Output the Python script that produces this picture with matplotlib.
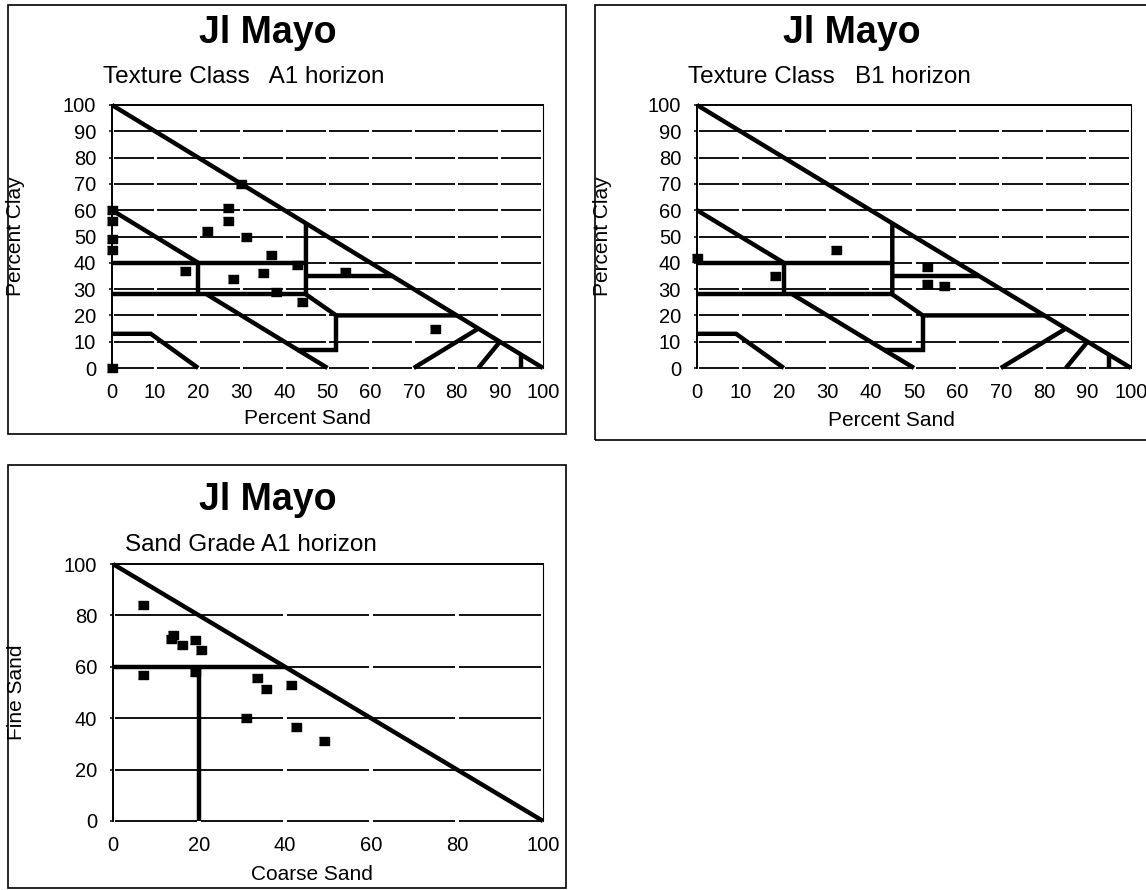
import numpy as np
import matplotlib
matplotlib.use("Agg")
import matplotlib.pyplot as plt
from matplotlib.patches import Rectangle

plt.rcParams['font.family'] = ['Liberation Sans', 'DejaVu Sans']

# ---------------- data ----------------
site_title = "Jl Mayo"
texture_ticks = np.arange(0, 101, 10)
grade_ticks = np.arange(0, 101, 20)

# A1 horizon texture: percent sand / percent clay
a1_sand = [0, 0, 0, 0, 0, 17, 22, 27, 27, 30, 28, 31, 35, 37, 43, 44, 38, 54, 75]
a1_clay = [60, 56, 49, 45, 0, 37, 52, 61, 56, 70, 34, 50, 36, 43, 39, 25, 29, 36.5, 15]

# B1 horizon texture
b1_sand = [0, 18, 32, 53, 53, 57]
b1_clay = [42, 35, 45, 38.5, 32, 31]

# A1 horizon sand grade: coarse sand / fine sand
a1_coarse = [7, 7, 13.5, 14, 16, 19, 20.5, 19, 31, 33.5, 35.5, 41.5, 42.5, 49]
a1_fine = [84, 57, 71, 72.5, 68.5, 70.5, 66.5, 58, 40, 55.5, 51.5, 53, 36.5, 31]

# texture class boundaries, (sand, clay) polylines
texture_bounds = [
    ([0, 100], [100, 0]),
    ([0, 20], [60, 40]),
    ([0, 45], [40, 40]),
    ([20, 20], [40, 28]),
    ([0, 45], [28, 28]),
    ([45, 45, 52, 80], [55, 28, 20, 20]),
    ([45, 65], [35, 35]),
    ([22, 50], [28, 0]),
    ([52, 52, 43], [20, 7, 7]),
    ([0, 9, 20], [13, 13, 0]),
    ([70, 85], [0, 15]),
    ([85, 90], [0, 10]),
    ([95, 95], [0, 5]),
]

# sand grade boundaries, (coarse, fine) polylines
grade_bounds = [
    ([0, 100], [100, 0]),
    ([0, 40], [60, 60]),
    ([20, 20], [60, 0]),
]

# ---------------- figure ----------------
W, H = 1146, 890
fig = plt.figure(figsize=(W / 100, H / 100), dpi=100)


def px_axes(left, top, right, bottom):
    return fig.add_axes([left / W, 1 - bottom / H, (right - left) / W, (bottom - top) / H])


def px_frame(left, top, right, bottom):
    fig.add_artist(Rectangle((left / W, 1 - bottom / H), (right - left) / W, (bottom - top) / H,
                             transform=fig.transFigure, fill=False, lw=1.2, ec='black'))


def px_text(x, y, s, **kw):
    fig.text(x / W, 1 - y / H, s, **kw)


box_marker = [(-1, -0.72), (1, -0.72), (1, 0.72), (-1, 0.72)]


def draw_panel(ax, ticks, bounds, xs, ys, xlabel, ylabel, ypad, xpad, xlab_xy, ylab_xy):
    ax.set_xlim(0, 100)
    ax.set_ylim(0, 100)
    ax.set_xticks(ticks)
    ax.set_yticks(ticks)
    ax.tick_params(axis='x', length=0, pad=xpad, labelsize=14.5)
    ax.tick_params(axis='y', length=2.5, width=1.1, pad=ypad, labelsize=14.5, direction='out')
    ax.spines['bottom'].set_visible(False)
    ax.spines['top'].set_linewidth(1.4)
    ax.spines['left'].set_linewidth(1.4)
    ax.spines['right'].set_linewidth(0.8)

    # broken gridlines, interrupted at every x tick
    gap = 0.35
    for y in ticks[:-1]:
        ax.hlines(np.full(len(ticks) - 1, y), ticks[:-1] + gap, ticks[1:] - gap,
                  colors='#111111', lw=1.4, zorder=1, clip_on=False)

    for bx, by in bounds:
        ax.plot(bx, by, color='black', lw=3.2, solid_joinstyle='miter',
                solid_capstyle='butt', zorder=2, clip_on=False)

    ax.plot(xs, ys, ls='none', marker=box_marker, ms=7.5, color='black',
            zorder=4, clip_on=False)

    ax.set_xlabel(xlabel, fontsize=15)
    ax.xaxis.set_label_coords(*xlab_xy)
    ax.xaxis.label.set_va('center')
    ax.set_ylabel(ylabel, fontsize=15)
    ax.yaxis.set_label_coords(*ylab_xy)
    ax.yaxis.label.set_va('center')


# panel frames
px_frame(8, 5, 566, 434)
px_frame(595, 5, 1170, 440)
px_frame(8, 465, 566, 888)

# A1 texture
ax1 = px_axes(112, 105, 543, 368)
draw_panel(ax1, texture_ticks, texture_bounds, a1_sand, a1_clay,
           "Percent Sand", "Percent Clay", 9, 10.5,
           ((307 - 112) / 431, (368 - 418) / 263), ((16 - 112) / 431, 0.5))
px_text(199, 43, site_title, fontsize=27, fontweight='bold', va='baseline', ha='left')
px_text(103, 83, "Texture Class   A1 horizon", fontsize=17.5, va='baseline', ha='left')

# B1 texture
ax2 = px_axes(697, 105, 1131, 368)
draw_panel(ax2, texture_ticks, texture_bounds, b1_sand, b1_clay,
           "Percent Sand", "Percent Clay", 9, 10.5,
           ((891 - 697) / 434, (368 - 420) / 263), ((602 - 697) / 434, 0.5))
px_text(783, 43, site_title, fontsize=27, fontweight='bold', va='baseline', ha='left')
px_text(688, 83, "Texture Class   B1 horizon", fontsize=17.5, va='baseline', ha='left')

# A1 sand grade
ax3 = px_axes(113, 564, 543, 821)
draw_panel(ax3, grade_ticks, grade_bounds, a1_coarse, a1_fine,
           "Coarse Sand", "Fine Sand", 9, 11,
           ((312 - 113) / 430, (821 - 875) / 257), ((17 - 113) / 430, 0.5))
px_text(199, 510, site_title, fontsize=27, fontweight='bold', va='baseline', ha='left')
px_text(125, 551, "Sand Grade A1 horizon", fontsize=17.5, va='baseline', ha='left')

fig.savefig("out.png", dpi=100)
